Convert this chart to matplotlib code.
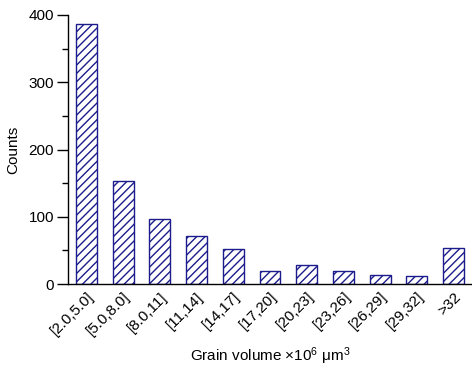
import matplotlib
matplotlib.use("Agg")
import matplotlib.pyplot as plt
from matplotlib.ticker import MultipleLocator

plt.rcParams['font.family'] = ['Liberation Sans', 'DejaVu Sans']
plt.rcParams['mathtext.fontset'] = 'custom'
plt.rcParams['mathtext.rm'] = 'Liberation Sans'
plt.rcParams['mathtext.it'] = 'Liberation Sans'
plt.rcParams['hatch.color'] = '#1c1c8c'
plt.rcParams['hatch.linewidth'] = 1.0

categories = ["[2.0,5.0]", "[5.0,8.0]", "[8.0,11]", "[11,14]", "[14,17]", "[17,20]",
              "[20,23]", "[23,26]", "[26,29]", "[29,32]", ">32"]
counts = [387, 153, 96, 71, 52, 19, 28, 20, 14, 12, 53]

fig = plt.figure(figsize=(4.72, 3.71), dpi=100)
ax = fig.add_axes([68/472, 1-284/371, 404/472, 269/371])

x = list(range(len(categories)))
ax.bar(x, counts, width=0.57, color='white', edgecolor='#1c1c8c', hatch='////', linewidth=1.0)

ax.set_xlim(-0.5, 10.5)
ax.set_ylim(0, 400)
ax.yaxis.set_major_locator(MultipleLocator(100))
ax.yaxis.set_minor_locator(MultipleLocator(50))
ax.spines['top'].set_visible(False)
ax.spines['right'].set_visible(False)
ax.spines['left'].set_linewidth(1.0)
ax.spines['bottom'].set_linewidth(1.0)
ax.tick_params(axis='y', which='major', length=8, width=1, labelsize=11, pad=2)
ax.tick_params(axis='y', which='minor', length=4.5, width=1)
ax.tick_params(axis='x', length=0, labelsize=11, pad=4)
ax.set_xticks(x)
ax.set_xticklabels(categories, rotation=45, ha='right', rotation_mode='anchor')
ax.set_ylabel("Counts", fontsize=11, labelpad=6)
ax.set_xlabel("Grain volume ×10$^6$ μm$^3$", fontsize=11, labelpad=5)

fig.savefig("out.png", dpi=100)
